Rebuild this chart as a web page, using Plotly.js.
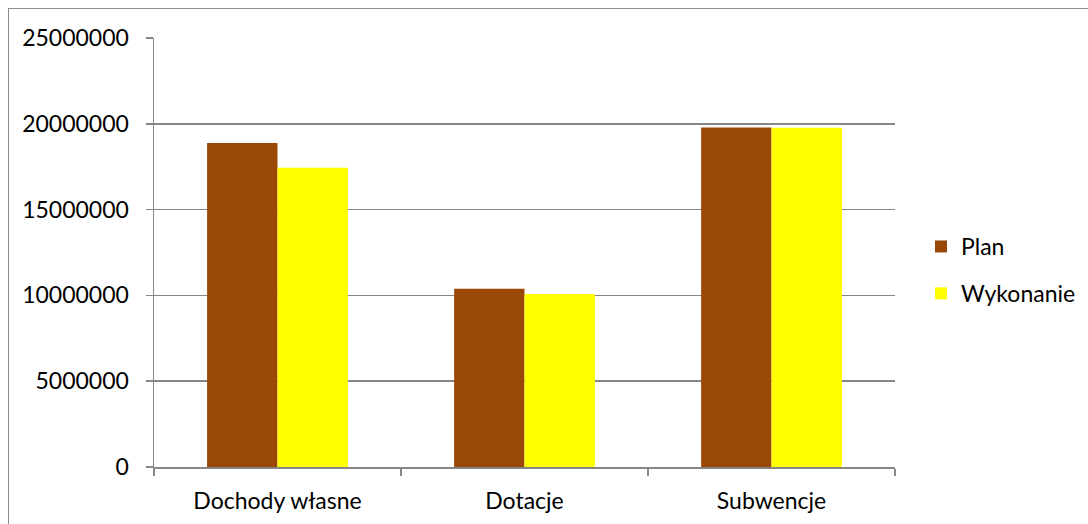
<!DOCTYPE html>
<html>
<head>
<meta charset="utf-8">
<script src="https://cdn.plot.ly/plotly-3.0.1.min.js"></script>
<style>
html,body{margin:0;padding:0;overflow:hidden;background:#fff;}
#wrap{position:relative;width:1088px;height:524px;overflow:hidden;}
#chart{position:absolute;left:0;top:0;width:1088px;height:524px;}
#frame{position:absolute;left:8px;top:8px;width:1200px;height:700px;border:1px solid #8c8c8c;pointer-events:none;}
</style>
</head>
<body>
<div id="wrap"><div id="chart"></div><div id="frame"></div></div>
<script>
var categories = ["Dochody własne", "Dotacje", "Subwencje"];
var planValues = [18880000, 10390000, 19780000];
var wykonanieValues = [17440000, 10080000, 19770000];
var seriesNames = ["Plan", "Wykonanie"];
var yTickVals = [0, 5000000, 10000000, 15000000, 20000000, 25000000];
var yTickText = ["0", "5000000", "10000000", "15000000", "20000000", "25000000"];

var fontFam = "Lato, 'Open Sans', sans-serif";
var fs = 23;
var traces = [
  {type:"bar", x:categories, y:planValues, name:seriesNames[0], legendgroup:"a",
   marker:{color:"#9A4806", line:{width:0}}},
  {type:"bar", x:categories, y:wykonanieValues, name:seriesNames[1], legendgroup:"b",
   marker:{color:"#FFFF00", line:{width:0}}}
];
var layout = {
  width:1088, height:524,
  margin:{l:154, r:193, t:37.5, b:57, pad:0, autoexpand:false},
  paper_bgcolor:"#fff", plot_bgcolor:"#fff",
  font:{family:fontFam, size:fs, color:"#000"},
  barmode:"group", bargap:0.43, bargroupgap:0,
  showlegend:true,
  legend:{x:0.8465, xanchor:"left", xref:"container", y:0.4847, yanchor:"middle", yref:"container",
          traceorder:"grouped", tracegroupgap:14, font:{family:fontFam, size:fs, color:"#000"},
          itemwidth:30, bgcolor:"rgba(0,0,0,0)"},
  xaxis:{type:"category", showline:true, linecolor:"#868686", linewidth:1.5,
         ticks:"outside", tickson:"boundaries", ticklen:7, tickcolor:"#868686", tickwidth:1.5,
         showgrid:false, ticklabelstandoff:13, tickfont:{family:fontFam, size:fs, color:"#000"}},
  yaxis:{range:[0,25000000], tickvals:yTickVals, ticktext:yTickText, showline:true,
         linecolor:"#868686", linewidth:1.5, ticks:"outside", ticklen:7, tickcolor:"#868686", tickwidth:1.5,
         showgrid:true, gridcolor:"#868686", gridwidth:1.5, zeroline:false,
         ticklabelstandoff:12, tickfont:{family:fontFam, size:fs, color:"#000"}}
};
Plotly.newPlot("chart", traces, layout, {displayModeBar:false, staticPlot:true});
</script>
</body>
</html>
